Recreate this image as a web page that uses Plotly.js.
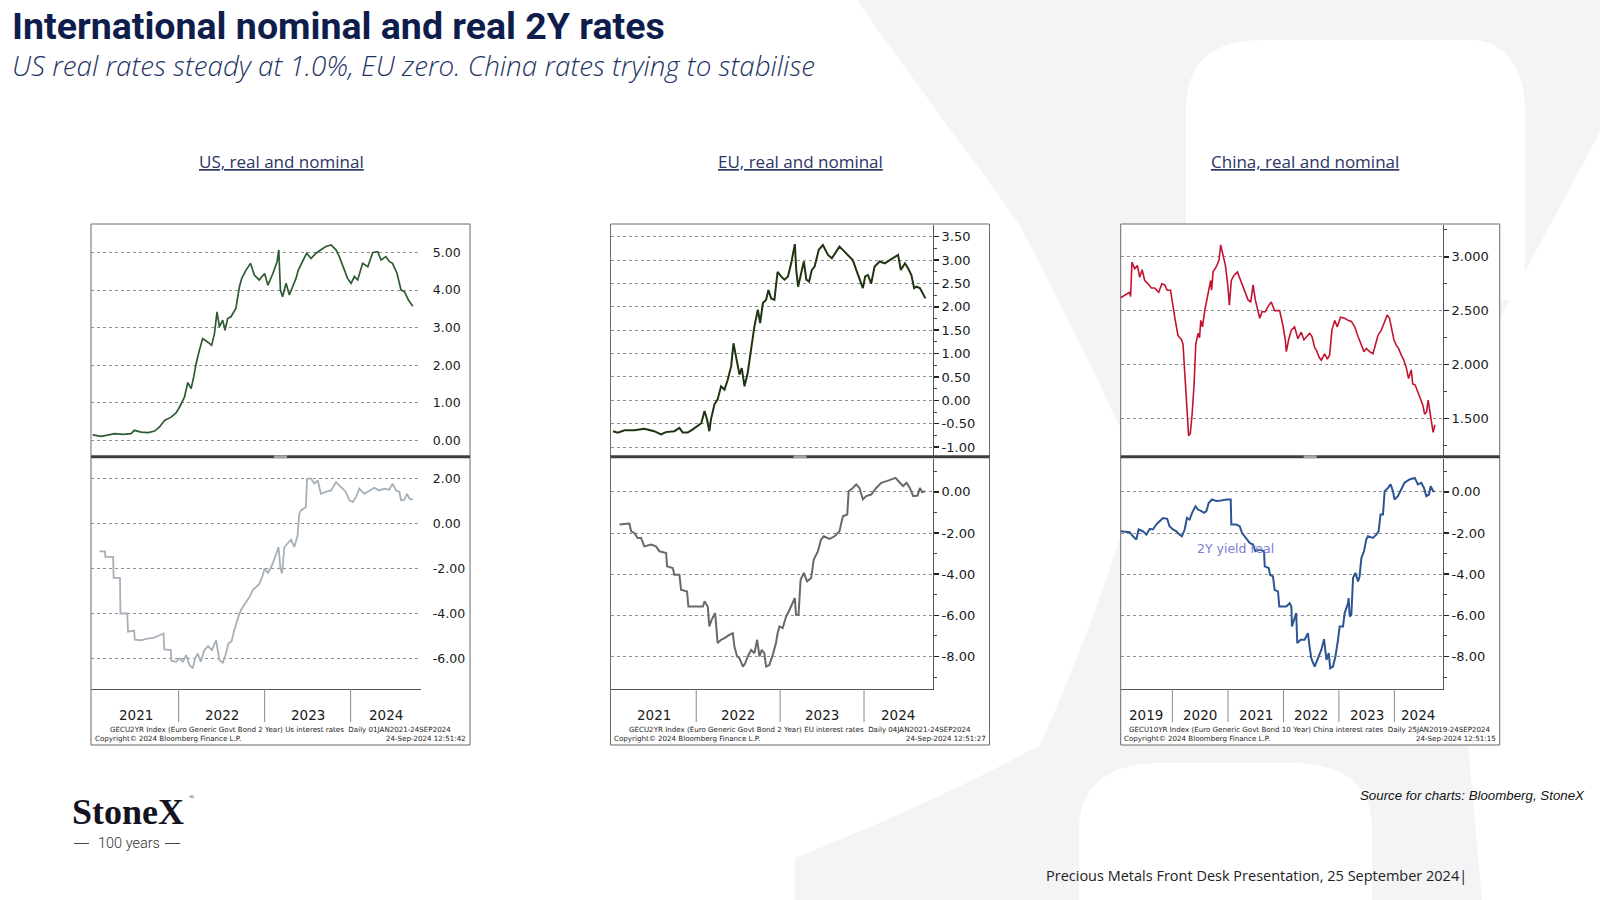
<!DOCTYPE html>
<html><head><meta charset="utf-8">
<script src="https://cdn.plot.ly/plotly-3.0.1.min.js"></script>
<style>html,body{margin:0;padding:0;background:#fff;}#chart{width:1600px;height:900px;}</style>
</head><body><div id="chart"></div>
<script>
// ---------------- DATA ----------------
const usNominal = [['2021-01-01',0.15],['2021-02-07',0.11],['2021-03-05',0.14],['2021-04-04',0.18],['2021-05-10',0.16],['2021-06-13',0.18],['2021-06-27',0.27],['2021-07-25',0.22],['2021-08-25',0.21],['2021-09-21',0.25],['2021-10-12',0.36],['2021-11-02',0.53],['2021-11-30',0.62],['2021-12-21',0.73],['2022-01-05',0.89],['2022-01-26',1.16],['2022-02-09',1.54],['2022-02-23',1.38],['2022-03-06',1.69],['2022-03-16',2.04],['2022-03-30',2.40],['2022-04-13',2.71],['2022-05-04',2.62],['2022-05-21',2.53],['2022-06-02',2.84],['2022-06-13',3.42],['2022-06-23',3.02],['2022-07-07',3.20],['2022-07-17',2.93],['2022-07-28',3.24],['2022-08-11',3.29],['2022-09-01',3.51],['2022-09-16',4.09],['2022-09-26',4.31],['2022-10-14',4.53],['2022-11-02',4.71],['2022-11-18',4.40],['2022-12-09',4.27],['2023-01-01',4.44],['2023-01-15',4.13],['2023-02-05',4.44],['2023-02-23',4.76],['2023-03-02',5.07],['2023-03-09',4.00],['2023-03-18',3.82],['2023-04-02',4.18],['2023-04-16',3.87],['2023-04-30',4.09],['2023-05-14',4.31],['2023-05-24',4.53],['2023-06-11',4.76],['2023-06-28',4.98],['2023-07-17',4.84],['2023-08-07',4.98],['2023-08-28',5.07],['2023-09-18',5.16],['2023-10-10',5.20],['2023-10-31',5.07],['2023-11-14',4.89],['2023-12-05',4.53],['2023-12-19',4.31],['2024-01-03',4.18],['2024-01-17',4.36],['2024-01-31',4.27],['2024-02-21',4.71],['2024-03-14',4.62],['2024-04-04',5.00],['2024-04-25',5.02],['2024-05-09',4.80],['2024-05-30',4.89],['2024-06-13',4.76],['2024-06-27',4.71],['2024-07-16',4.44],['2024-08-02',4.00],['2024-08-16',3.96],['2024-09-03',3.73],['2024-09-21',3.57]];

const usReal = [['2021-01-30',-1.23],['2021-02-22',-1.23],['2021-02-24',-1.48],['2021-03-29',-1.48],['2021-03-31',-2.41],['2021-04-27',-2.41],['2021-04-29',-4.00],['2021-05-28',-4.00],['2021-05-31',-4.81],['2021-06-26',-4.76],['2021-06-29',-5.16],['2021-07-25',-5.19],['2021-08-20',-5.12],['2021-09-15',-5.08],['2021-10-05',-5.00],['2021-10-29',-4.89],['2021-11-01',-5.60],['2021-11-29',-5.63],['2021-12-01',-6.10],['2021-12-21',-6.15],['2022-01-05',-6.00],['2022-01-19',-6.15],['2022-02-02',-5.85],['2022-02-16',-6.30],['2022-03-02',-6.44],['2022-03-12',-6.00],['2022-03-23',-5.78],['2022-04-05',-6.15],['2022-04-20',-5.63],['2022-05-06',-5.45],['2022-05-22',-5.63],['2022-06-09',-5.19],['2022-06-23',-6.07],['2022-07-07',-6.19],['2022-07-21',-5.78],['2022-07-31',-5.33],['2022-08-14',-5.23],['2022-08-25',-4.74],['2022-09-16',-4.00],['2022-09-26',-3.78],['2022-10-15',-3.48],['2022-10-29',-3.26],['2022-11-12',-2.96],['2022-11-26',-2.81],['2022-12-10',-2.67],['2022-12-24',-2.30],['2023-01-01',-2.00],['2023-01-15',-2.19],['2023-01-29',-1.93],['2023-02-12',-1.56],['2023-03-01',-1.04],['2023-03-09',-2.00],['2023-03-16',-2.22],['2023-03-26',-1.04],['2023-04-09',-0.89],['2023-04-23',-0.71],['2023-05-07',-1.04],['2023-05-21',-0.52],['2023-05-28',0.44],['2023-06-04',0.59],['2023-06-25',0.74],['2023-06-30',2.00],['2023-07-17',2.00],['2023-07-31',1.78],['2023-08-14',1.93],['2023-08-28',1.33],['2023-09-18',1.41],['2023-10-10',1.48],['2023-10-31',1.85],['2023-11-21',1.63],['2023-12-12',1.41],['2023-12-27',1.04],['2024-01-10',0.96],['2024-01-24',1.19],['2024-02-07',1.56],['2024-02-28',1.33],['2024-03-20',1.48],['2024-04-10',1.60],['2024-05-01',1.48],['2024-05-23',1.56],['2024-06-13',1.51],['2024-06-27',1.78],['2024-07-12',1.48],['2024-07-26',1.41],['2024-08-02',1.04],['2024-08-16',1.07],['2024-08-27',1.33],['2024-09-07',1.11],['2024-09-21',1.07]];

const euNominal = [['2021-01-04',-0.66],['2021-01-25',-0.69],['2021-02-23',-0.64],['2021-04-07',-0.64],['2021-05-20',-0.61],['2021-07-02',-0.66],['2021-08-01',-0.73],['2021-08-22',-0.68],['2021-09-28',-0.66],['2021-10-20',-0.59],['2021-11-03',-0.69],['2021-11-25',-0.69],['2021-12-17',-0.62],['2022-01-09',-0.55],['2022-01-23',-0.49],['2022-02-06',-0.23],['2022-02-17',-0.41],['2022-02-27',-0.66],['2022-03-06',-0.41],['2022-03-21',-0.09],['2022-04-04',0.02],['2022-04-19',0.30],['2022-05-04',0.23],['2022-05-18',0.44],['2022-06-02',0.73],['2022-06-12',1.22],['2022-06-24',0.94],['2022-07-08',0.55],['2022-07-18',0.69],['2022-07-30',0.30],['2022-08-13',0.59],['2022-08-28',1.15],['2022-09-11',1.58],['2022-09-26',1.94],['2022-10-06',1.65],['2022-10-18',2.08],['2022-11-01',2.15],['2022-11-11',2.36],['2022-11-23',2.18],['2022-12-07',2.15],['2022-12-21',2.75],['2023-01-05',2.65],['2023-01-20',2.58],['2023-02-04',2.65],['2023-02-18',2.93],['2023-03-06',3.34],['2023-03-12',2.79],['2023-03-20',2.43],['2023-03-31',2.68],['2023-04-14',2.97],['2023-04-25',2.58],['2023-05-07',2.54],['2023-05-19',2.79],['2023-05-31',2.86],['2023-06-18',3.22],['2023-07-06',3.32],['2023-07-28',3.11],['2023-08-14',3.04],['2023-09-02',3.18],['2023-09-16',3.29],['2023-10-08',3.18],['2023-10-30',3.07],['2023-11-13',3.00],['2023-11-28',2.79],['2023-12-12',2.61],['2023-12-27',2.40],['2024-01-06',2.65],['2024-01-18',2.68],['2024-02-01',2.50],['2024-02-16',2.86],['2024-03-09',2.97],['2024-03-31',2.93],['2024-04-22',3.00],['2024-05-14',3.07],['2024-05-28',3.11],['2024-06-09',2.79],['2024-06-27',2.93],['2024-07-11',2.82],['2024-07-25',2.68],['2024-08-06',2.40],['2024-08-16',2.43],['2024-08-31',2.40],['2024-09-14',2.26],['2024-09-24',2.18]];

const euReal = [['2021-02-01',-1.59],['2021-03-16',-1.54],['2021-03-24',-1.92],['2021-04-07',-2.00],['2021-04-21',-2.24],['2021-05-06',-2.24],['2021-05-20',-2.65],['2021-06-19',-2.56],['2021-07-10',-2.65],['2021-07-25',-2.89],['2021-08-23',-2.97],['2021-08-27',-3.62],['2021-09-21',-3.70],['2021-09-28',-4.03],['2021-10-20',-4.03],['2021-10-27',-4.76],['2021-11-22',-4.84],['2021-11-28',-5.57],['2022-01-30',-5.57],['2022-02-06',-5.32],['2022-02-20',-5.57],['2022-02-27',-6.54],['2022-03-09',-6.22],['2022-03-24',-5.89],['2022-03-28',-6.38],['2022-04-04',-7.35],['2022-04-19',-7.19],['2022-05-04',-7.11],['2022-05-25',-6.95],['2022-06-09',-6.87],['2022-06-16',-7.52],['2022-06-28',-8.00],['2022-07-08',-8.08],['2022-07-23',-8.49],['2022-08-02',-8.33],['2022-08-13',-8.00],['2022-08-28',-7.68],['2022-09-11',-7.84],['2022-09-23',-7.19],['2022-10-03',-8.00],['2022-10-13',-7.68],['2022-10-24',-7.84],['2022-11-01',-8.49],['2022-11-15',-8.41],['2022-11-30',-7.92],['2022-12-14',-7.35],['2022-12-21',-6.87],['2022-12-29',-6.54],['2023-01-12',-6.62],['2023-01-27',-6.06],['2023-02-11',-5.73],['2023-02-25',-5.41],['2023-03-06',-5.16],['2023-03-11',-5.97],['2023-03-22',-5.97],['2023-03-31',-4.27],['2023-04-14',-3.94],['2023-04-28',-4.35],['2023-05-16',-4.19],['2023-05-27',-3.30],['2023-06-14',-2.89],['2023-06-28',-2.32],['2023-07-10',-2.16],['2023-08-04',-2.29],['2023-08-26',-2.16],['2023-09-16',-1.92],['2023-10-01',-1.19],['2023-10-20',-1.10],['2023-10-26',0.03],['2023-11-13',0.19],['2023-11-28',0.36],['2023-12-12',0.19],['2023-12-27',-0.37],['2024-01-10',-0.21],['2024-02-01',-0.13],['2024-02-23',0.19],['2024-03-16',0.44],['2024-04-08',0.52],['2024-04-29',0.60],['2024-05-17',0.68],['2024-06-05',0.44],['2024-06-19',0.28],['2024-07-04',0.44],['2024-07-18',0.19],['2024-08-02',-0.21],['2024-08-21',-0.18],['2024-08-31',0.19],['2024-09-10',-0.02],['2024-09-22',0.03]];

const cnNominal = [['2019-01-25',2.62],['2019-03-26',2.67],['2019-04-01',2.63],['2019-04-10',2.95],['2019-04-28',2.89],['2019-05-16',2.92],['2019-05-31',2.81],['2019-06-16',2.88],['2019-07-03',2.78],['2019-07-25',2.75],['2019-08-16',2.71],['2019-09-06',2.71],['2019-10-03',2.67],['2019-10-24',2.75],['2019-11-11',2.74],['2019-11-28',2.69],['2019-12-20',2.69],['2019-12-29',2.60],['2020-01-20',2.41],['2020-02-07',2.27],['2020-03-01',2.23],['2020-03-11',2.19],['2020-03-22',1.95],['2020-04-06',1.67],['2020-04-17',1.34],['2020-04-28',1.36],['2020-05-10',1.54],['2020-05-23',1.82],['2020-06-03',2.19],['2020-06-18',2.29],['2020-06-28',2.25],['2020-07-06',2.41],['2020-07-17',2.35],['2020-08-01',2.50],['2020-08-23',2.66],['2020-09-09',2.78],['2020-09-15',2.69],['2020-09-25',2.86],['2020-10-17',2.91],['2020-11-03',2.97],['2020-11-14',3.11],['2020-11-29',3.03],['2020-12-15',2.92],['2021-01-01',2.72],['2021-01-10',2.55],['2021-01-23',2.78],['2021-02-10',2.83],['2021-03-04',2.86],['2021-03-19',2.80],['2021-04-04',2.74],['2021-04-21',2.67],['2021-05-13',2.60],['2021-05-31',2.58],['2021-06-15',2.74],['2021-06-30',2.60],['2021-07-14',2.52],['2021-07-29',2.43],['2021-08-13',2.49],['2021-09-04',2.49],['2021-09-22',2.54],['2021-10-13',2.58],['2021-11-04',2.50],['2021-12-07',2.50],['2021-12-29',2.36],['2022-01-13',2.23],['2022-01-20',2.12],['2022-02-04',2.23],['2022-02-22',2.32],['2022-03-15',2.35],['2022-04-06',2.24],['2022-04-28',2.30],['2022-05-16',2.23],['2022-06-07',2.27],['2022-06-22',2.29],['2022-07-08',2.26],['2022-07-25',2.16],['2022-08-10',2.12],['2022-08-23',2.07],['2022-09-07',2.04],['2022-09-29',2.10],['2022-10-17',2.05],['2022-11-01',2.09],['2022-11-16',2.32],['2022-12-04',2.41],['2022-12-21',2.35],['2023-01-12',2.44],['2023-02-08',2.43],['2023-03-02',2.41],['2023-03-24',2.40],['2023-04-15',2.35],['2023-05-07',2.26],['2023-05-29',2.19],['2023-06-15',2.12],['2023-06-30',2.15],['2023-07-22',2.12],['2023-08-13',2.10],['2023-08-24',2.16],['2023-09-15',2.27],['2023-10-07',2.32],['2023-10-29',2.40],['2023-11-15',2.46],['2023-11-30',2.43],['2023-12-16',2.32],['2023-12-29',2.23],['2024-01-13',2.18],['2024-01-28',2.15],['2024-02-15',2.09],['2024-03-03',2.04],['2024-03-18',1.98],['2024-04-03',1.87],['2024-04-21',1.95],['2024-05-01',1.82],['2024-05-17',1.81],['2024-06-04',1.74],['2024-06-22',1.67],['2024-07-07',1.62],['2024-07-18',1.54],['2024-07-31',1.56],['2024-08-10',1.67],['2024-08-21',1.57],['2024-09-01',1.48],['2024-09-12',1.37],['2024-09-22',1.43],['2024-09-24',1.44]];

const cnReal = [['2019-01-25',-1.92],['2019-03-26',-1.96],['2019-04-17',-2.16],['2019-05-09',-2.32],['2019-05-24',-1.83],['2019-06-22',-1.92],['2019-07-14',-2.08],['2019-08-05',-1.80],['2019-08-26',-1.83],['2019-09-17',-1.59],['2019-10-09',-1.43],['2019-10-31',-1.27],['2019-11-28',-1.31],['2019-12-13',-1.67],['2020-01-05',-1.83],['2020-01-27',-1.92],['2020-02-18',-2.08],['2020-03-04',-2.16],['2020-03-22',-1.83],['2020-04-06',-1.27],['2020-04-23',-1.35],['2020-05-10',-1.02],['2020-06-01',-0.70],['2020-06-18',-0.86],['2020-07-10',-0.94],['2020-07-27',-1.02],['2020-08-12',-0.94],['2020-08-27',-0.54],['2020-09-18',-0.37],['2020-10-17',-0.45],['2020-11-18',-0.42],['2020-12-21',-0.37],['2021-01-19',-0.37],['2021-01-23',-1.59],['2021-02-25',-1.59],['2021-03-19',-1.67],['2021-04-04',-2.00],['2021-05-02',-2.24],['2021-05-24',-2.48],['2021-06-15',-2.56],['2021-06-30',-2.89],['2021-07-29',-2.81],['2021-08-26',-2.89],['2021-08-31',-3.62],['2021-09-26',-3.70],['2021-10-05',-4.03],['2021-10-24',-4.11],['2021-11-04',-4.76],['2021-11-26',-4.84],['2021-12-05',-5.57],['2022-01-20',-5.57],['2022-02-11',-5.41],['2022-02-22',-5.57],['2022-02-26',-6.54],['2022-03-15',-6.06],['2022-03-26',-5.89],['2022-04-02',-7.35],['2022-04-24',-7.19],['2022-05-20',-7.19],['2022-06-11',-6.87],['2022-06-22',-7.52],['2022-07-03',-8.08],['2022-07-25',-8.49],['2022-08-10',-8.17],['2022-08-27',-7.92],['2022-09-07',-7.68],['2022-09-25',-7.16],['2022-10-11',-8.17],['2022-10-26',-7.84],['2022-11-05',-8.57],['2022-11-23',-8.49],['2022-12-09',-8.00],['2022-12-26',-7.19],['2023-01-06',-6.54],['2023-01-28',-6.54],['2023-02-08',-5.89],['2023-03-02',-5.41],['2023-03-06',-5.16],['2023-03-13',-6.06],['2023-03-24',-5.97],['2023-04-04',-4.19],['2023-04-19',-3.94],['2023-05-07',-4.35],['2023-05-17',-4.11],['2023-05-29',-3.21],['2023-06-15',-2.89],['2023-06-30',-2.32],['2023-07-11',-2.16],['2023-08-13',-2.24],['2023-09-04',-2.08],['2023-09-19',-1.92],['2023-10-02',-1.10],['2023-10-18',-1.10],['2023-10-29',0.03],['2023-11-20',0.19],['2023-12-07',0.36],['2023-12-23',0.03],['2024-01-02',-0.37],['2024-01-24',-0.21],['2024-02-15',0.11],['2024-03-08',0.44],['2024-04-10',0.60],['2024-05-14',0.68],['2024-06-04',0.36],['2024-06-26',0.44],['2024-07-14',0.19],['2024-07-29',-0.21],['2024-08-16',-0.13],['2024-08-27',0.28],['2024-09-12',0.03],['2024-09-22',0.03]];

// tick values / labels
const usTopTicks = [0,1,2,3,4,5];
const usTopLabels = ['0.00','1.00','2.00','3.00','4.00','5.00'];
const usBotTicks = [-6,-4,-2,0,2];
const usBotLabels = ['-6.00','-4.00','-2.00','0.00','2.00'];
const euTopTicks = [-1,-0.5,0,0.5,1,1.5,2,2.5,3,3.5];
const euTopLabels = ['-1.00','-0.50','0.00','0.50','1.00','1.50','2.00','2.50','3.00','3.50'];
const euTopMinor = [-0.75,-0.25,0.25,0.75,1.25,1.75,2.25,2.75,3.25];
const realTicks = [-8,-6,-4,-2,0];
const realLabels = ['-8.00','-6.00','-4.00','-2.00','0.00'];
const realMinor = [-9,-7,-5,-3,-1,1];
const cnTopTicks = [1.5,2,2.5,3];
const cnTopLabels = ['1.500','2.000','2.500','3.000'];
const cnTopMinor = [1.25,1.75,2.25,2.75,3.25];
const yearLabels4 = ['2021','2022','2023','2024'];
const yearPos4 = ['2021-07-02','2022-07-02','2023-07-02','2024-05-29'];
const yearBounds4 = ['2022-01-01','2023-01-01','2024-01-01'];
const yearLabels6 = ['2019','2020','2021','2022','2023','2024'];
const yearPos6 = ['2019-07-14','2020-07-01','2021-07-02','2022-07-02','2023-07-02','2024-06-07'];
const yearBounds6 = ['2020-01-01','2021-01-01','2022-01-01','2023-01-01','2024-01-01'];

// ---------------- LAYOUT ----------------
const W = 1600, H = 900;
const px = x => x / W, py = y => 1 - y / H;
function pathPx(d){
  const toks = d.trim().split(/\s+/); const out = []; let isX = true;
  for (const t of toks){
    if (/^[A-Za-z]$/.test(t)){ out.push(t); isX = true; }
    else { const v = parseFloat(t); out.push(isX ? (v/W).toFixed(5) : (1-v/H).toFixed(5)); isX = !isX; }
  }
  return out.join(' ');
}
const TOP = [225, 455.5], BOT = [458.5, 689];
const chartFont = 'DejaVu Sans';

const panels = [
  {box:[91,224,470,745], plotR:421.3, xr:['2020-12-25','2024-10-27'], axisLine:false, tickSize:12.5,
   title:'US, real and nominal', titleX:281, titleY:161,
   top:{data:usNominal, color:'#2f5b33', w:1.7, range:[-0.40,5.73], tv:usTopTicks, tt:usTopLabels, minor:null},
   bot:{data:usReal, color:'#a7b0b9', w:1.8, range:[-7.36,2.90], tv:usBotTicks, tt:usBotLabels, minor:null},
   years:yearLabels4, yearPos:yearPos4, bounds:yearBounds4,
   note1:'GECU2YR Index (Euro Generic Govt Bond 2 Year) Us interest rates  Daily 01JAN2021-24SEP2024',
   note2:'24-Sep-2024 12:51:42'},
  {box:[610.5,224,989.5,745], plotR:933, xr:['2020-12-24','2024-10-27'], axisLine:true, tickSize:13,
   title:'EU, real and nominal', titleX:800, titleY:162,
   top:{data:euNominal, color:'#1f3410', w:2, range:[-1.18,3.75], tv:euTopTicks, tt:euTopLabels, minor:euTopMinor},
   bot:{data:euReal, color:'#696969', w:2, range:[-9.58,1.62], tv:realTicks, tt:realLabels, minor:realMinor},
   years:yearLabels4, yearPos:yearPos4, bounds:yearBounds4,
   note1:'GECU2YR Index (Euro Generic Govt Bond 2 Year) EU interest rates  Daily 04JAN2021-24SEP2024',
   note2:'24-Sep-2024 12:51:27'},
  {box:[1120.7,224,1499.7,745], plotR:1443, xr:['2019-01-26','2024-11-16'], axisLine:true, tickSize:13,
   title:'China, real and nominal', titleX:1305, titleY:161,
   top:{data:cnNominal, color:'#c3132f', w:1.6, range:[1.156,3.295], tv:cnTopTicks, tt:cnTopLabels, minor:cnTopMinor},
   bot:{data:cnReal, color:'#2e5593', w:2, range:[-9.58,1.62], tv:realTicks, tt:realLabels, minor:realMinor},
   years:yearLabels6, yearPos:yearPos6, bounds:yearBounds6,
   note1:'GECU10YR Index (Euro Generic Govt Bond 10 Year) China interest rates  Daily 25JAN2019-24SEP2024',
   note2:'24-Sep-2024 12:51:15'}
];

const traces = [];
const layout = {
  width: W, height: H, margin:{l:0,r:0,t:0,b:0},
  paper_bgcolor:'#ffffff', plot_bgcolor:'rgba(0,0,0,0)', showlegend:false,
  shapes:[], annotations:[]
};

// watermark (large StoneX "X")
const WM = '#f3f4f6';
layout.shapes.push({type:'path', xref:'paper', yref:'paper', layer:'below', fillcolor:WM, line:{width:0},
  path: pathPx('M 857 0 L 1600 0 L 1600 900 L 795 900 L 795 858 Q 940 800 1040 745 Q 1105 600 1140 470 Q 1080 340 1019 224 C 960 140 905 70 857 0 Z')});
layout.shapes.push({type:'path', xref:'paper', yref:'paper', layer:'below', fillcolor:'#ffffff', line:{width:0},
  path: pathPx('M 1186 300 L 1186 110 C 1186 62 1212 40 1265 40 L 1470 40 C 1505 40 1525 70 1525 110 L 1525 300 Z')});
layout.shapes.push({type:'path', xref:'paper', yref:'paper', layer:'below', fillcolor:'#ffffff', line:{width:0},
  path: pathPx('M 1600 132 L 1440 430 L 1482 900 L 1600 900 Z')});
layout.shapes.push({type:'path', xref:'paper', yref:'paper', layer:'below', fillcolor:'#ffffff', line:{width:0},
  path: pathPx('M 1079 900 L 1079 830 C 1079 785 1110 763 1160 763 L 1290 763 C 1345 763 1372 785 1372 830 L 1372 900 Z')});

panels.forEach((p, i) => {
  const kT = 2*i+1, kB = 2*i+2;
  const xn = k => k===1 ? 'x' : 'x'+k, yn = k => k===1 ? 'y' : 'y'+k;
  const xa = k => k===1 ? 'xaxis' : 'xaxis'+k, ya = k => k===1 ? 'yaxis' : 'yaxis'+k;
  const [L,T,R,B] = p.box;
  [[kT,p.top,TOP,false],[kB,p.bot,BOT,true]].forEach(([k,s,dom,isBot]) => {
    traces.push({type:'scatter', mode:'lines', x:s.data.map(d=>d[0]), y:s.data.map(d=>d[1]),
      xaxis:xn(k), yaxis:yn(k), line:{color:s.color, width:s.w}, hoverinfo:'skip'});
    layout[xa(k)] = {domain:[px(L), px(p.plotR)], range:p.xr, type:'date', anchor:yn(k),
      showgrid:false, zeroline:false, showticklabels:false, ticks:'', fixedrange:true,
      showline:isBot, linecolor:'#555', linewidth:1};
    const yax = {domain:[py(dom[1]), py(dom[0])], range:s.range, anchor:xn(k), side:'right',
      tickmode:'array', tickvals:s.tv, ticktext:s.tt, showgrid:true, gridcolor:'#8f8f8f', griddash:'dot', gridwidth:1,
      zeroline:false, showline:p.axisLine, linecolor:'#555', linewidth:1, fixedrange:true,
      ticks:'outside', ticklen:p.axisLine?5:8, tickwidth:1.5, tickcolor:p.axisLine?'#222':'rgba(0,0,0,0)',
      tickfont:{family:chartFont, size:p.tickSize, color:'#1a1a1a'}};
    if (s.minor) yax.minor = {tickmode:'array', tickvals:s.minor, ticks:'outside', ticklen:3, tickwidth:1, tickcolor:'#444', showgrid:false};
    layout[ya(k)] = yax;
  });
  // box
  layout.shapes.push({type:'rect', xref:'paper', yref:'paper', layer:'below', x0:px(L), x1:px(R), y0:py(B), y1:py(T),
    fillcolor:'#ffffff', line:{color:'#6a6a6a', width:1}});
  // separator + handle
  layout.shapes.push({type:'rect', xref:'paper', yref:'paper', layer:'above', x0:px(L), x1:px(R), y0:py(458.3), y1:py(455.2),
    fillcolor:'#3e3e3e', line:{width:0}});
  const cx = (L+R)/2;
  layout.shapes.push({type:'rect', xref:'paper', yref:'paper', layer:'above', x0:px(cx-6.5), x1:px(cx+6.5), y0:py(458.1), y1:py(455.4),
    fillcolor:'#a5a5a5', line:{width:0}});
  // year dividers
  p.bounds.forEach(d => layout.shapes.push({type:'line', xref:xn(kB), yref:'paper', x0:d, x1:d, y0:py(689), y1:py(722),
    line:{color:'#8a8a8a', width:1}}));
  // year labels
  p.years.forEach((yr, j) => layout.annotations.push({xref:xn(kB), yref:'paper', x:p.yearPos[j], y:py(715), text:yr,
    showarrow:false, xanchor:'center', yanchor:'middle', font:{family:chartFont, size:13.5, color:'#1a1a1a'}}));
  // footnotes
  layout.annotations.push({xref:'paper', yref:'paper', x:px(cx), y:py(729.5), text:p.note1, showarrow:false,
    xanchor:'center', yanchor:'middle', font:{family:chartFont, size:7.1, color:'#222'}});
  layout.annotations.push({xref:'paper', yref:'paper', x:px(L+1.5), y:py(738.5), text:'Copyright\u00a9 2024 Bloomberg Finance L.P.', showarrow:false,
    xanchor:'left', yanchor:'middle', font:{family:chartFont, size:7.1, color:'#222'}});
  layout.annotations.push({xref:'paper', yref:'paper', x:px(R-1.5), y:py(738.5), text:p.note2, showarrow:false,
    xanchor:'right', yanchor:'middle', font:{family:chartFont, size:7.1, color:'#222'}});
  // panel title
  layout.annotations.push({xref:'paper', yref:'paper', x:px(p.titleX), y:py(p.titleY), text:'<u>'+p.title+'</u>', showarrow:false,
    xanchor:'center', yanchor:'middle', font:{family:'Open Sans', size:17, color:'#2b3566'}});
});

// in-chart label
layout.annotations.push({xref:'paper', yref:'paper', x:px(1235), y:py(548), text:'2Y yield real', showarrow:false,
  xanchor:'center', yanchor:'middle', font:{family:chartFont, size:12.5, color:'#7a7ed4'}});

// page texts
layout.annotations.push({xref:'paper', yref:'paper', x:px(10), y:py(26), showarrow:false, xanchor:'left', yanchor:'middle',
  text:'International nominal and real 2Y rates',
  font:{family:'Roboto', size:37.5, weight:700, color:'#0e1d4c'}});
layout.annotations.push({xref:'paper', yref:'paper', x:px(10), y:py(65), showarrow:false, xanchor:'left', yanchor:'middle',
  text:'US real rates steady at 1.0%, EU zero. China rates trying to stabilise',
  font:{family:'Open Sans', size:27.8, style:'italic', weight:300, color:'#1f3466'}});
layout.annotations.push({xref:'paper', yref:'paper', x:px(1587), y:py(795), showarrow:false, xanchor:'right', yanchor:'middle',
  text:'Source for charts: Bloomberg, StoneX', font:{family:'Liberation Sans', size:13.3, style:'italic', color:'#111'}});
layout.annotations.push({xref:'paper', yref:'paper', x:px(1044), y:py(875.5), showarrow:false, xanchor:'left', yanchor:'middle',
  text:'Precious Metals Front Desk Presentation, 25 September 2024|', font:{family:'Open Sans', size:14.5, color:'#222'}});
layout.annotations.push({xref:'paper', yref:'paper', x:px(70), y:py(812), showarrow:false, xanchor:'left', yanchor:'middle',
  text:'StoneX', font:{family:'Liberation Serif', size:36, weight:700, color:'#14141f'}});
layout.annotations.push({xref:'paper', yref:'paper', x:px(192), y:py(797), showarrow:false, xanchor:'center', yanchor:'middle',
  text:'®', font:{family:'Liberation Serif', size:7, color:'#14141f'}});
layout.annotations.push({xref:'paper', yref:'paper', x:px(128.5), y:py(843), showarrow:false, xanchor:'center', yanchor:'middle',
  text:'100 years', font:{family:'Roboto', size:14.5, weight:300, color:'#333'}});
// logo dashes
layout.shapes.push({type:'line', xref:'paper', yref:'paper', layer:'above', x0:px(74), x1:px(89), y0:py(843.5), y1:py(843.5),
  line:{color:'#444', width:1}});
layout.shapes.push({type:'line', xref:'paper', yref:'paper', layer:'above', x0:px(165), x1:px(180), y0:py(843.5), y1:py(843.5),
  line:{color:'#444', width:1}});

Plotly.newPlot('chart', traces, layout, {displayModeBar:false, staticPlot:true});
</script>
</body></html>
